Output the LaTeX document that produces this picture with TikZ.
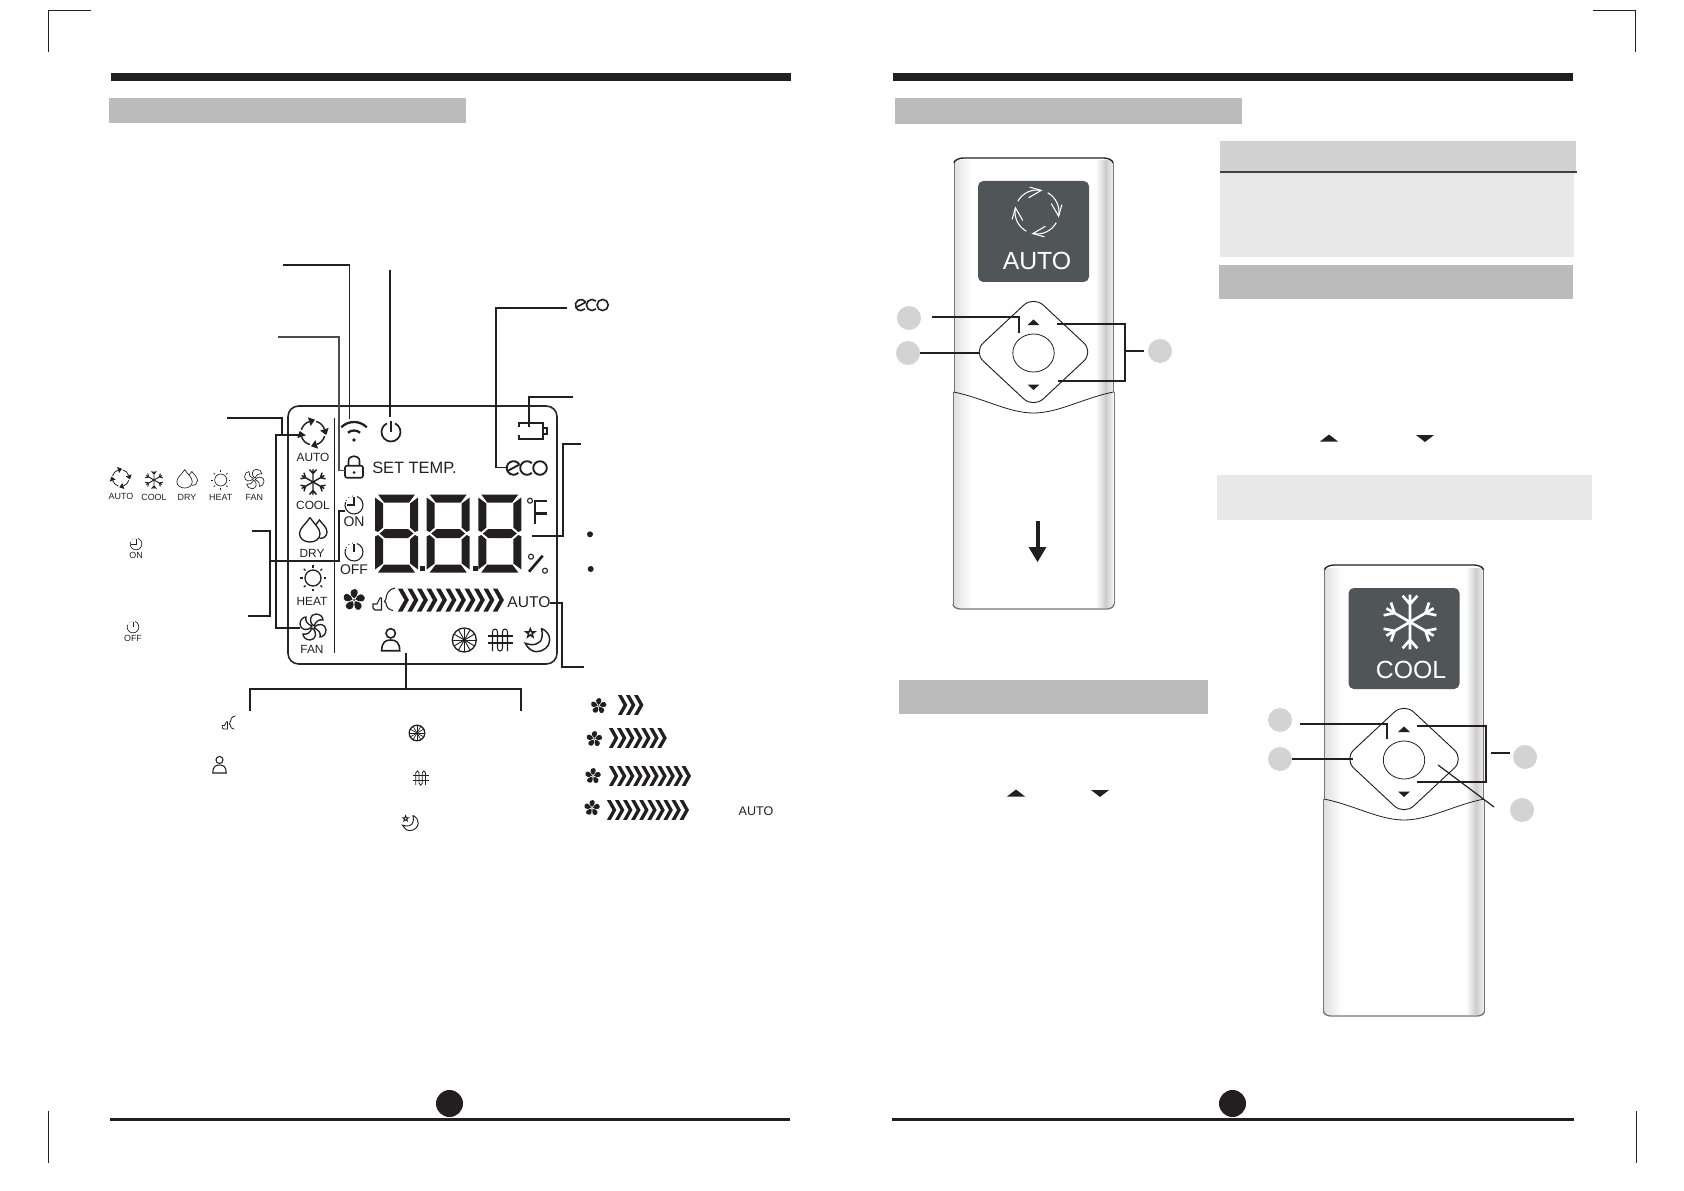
\documentclass[tikz,border=0pt]{standalone}
\usepackage{fontspec}
\setmainfont{Liberation Sans}
\definecolor{inkblack}{HTML}{231F20}
\definecolor{bandgrey}{HTML}{BBBBBB}
\definecolor{headgrey}{HTML}{D2D2D2}
\definecolor{panelgrey}{HTML}{E8E8E8}
\definecolor{screengrey}{HTML}{505658}
\definecolor{dotgrey}{HTML}{D3D3D3}
\definecolor{edgegrey}{HTML}{777777}
\tikzset{
  every pic/.style={yscale=-1},
  leader/.style={line width=0.9pt},
  cropmark/.style={line width=0.9pt},
  numdot/.style={circle,fill=dotgrey,inner sep=0pt,minimum size=18pt},
  modetxt/.style={inner sep=0pt,font=\fontsize{8.9}{10}\selectfont},
  legendtxt/.style={inner sep=0pt,font=\fontsize{6.7}{8}\selectfont},
  timertxt/.style={inner sep=0pt,font=\fontsize{10.5}{12}\selectfont},
  screentxt/.style={inner sep=0pt,text=white,font=\fontsize{18.6}{20}\selectfont},
  pics/modeauto/.style={code={
    \foreach \a in {0,90,180,270}{
      \draw ({\a+15}:12) arc[start angle=\a+15,end angle=\a+72,radius=12];
      \fill[rotate=\a+72] (16.5,0) -- (7.5,0) -- (12,6) -- cycle;
    }}},
  pics/modecool/.style={code={
    \foreach \a in {30,90,...,330}{
      \draw[rotate=\a] (0,0) -- (13,0) (8.5,0) -- (12.5,-3.5) (8.5,0) -- (12.5,3.5);
    }}},
  pics/modedry/.style={code={
    \draw (-3,-12.5) .. controls (-7,-6) and (-13.5,-2) .. (-13.5,3.5) .. controls (-13.5,9) and (-8.5,12) .. (-3,12) .. controls (2.5,12) and (7,9) .. (7,3.5) .. controls (7,-2) and (1,-6) .. (-3,-12.5);
    \draw (3,-5.5) -- (6.5,-10) .. controls (9,-6) and (14,-3) .. (14,2) .. controls (14,6) and (11,8.5) .. (6.5,8.5);
    }},
  pics/modeheat/.style={code={
    \draw (0,0) circle (8);
    \foreach \a in {0,45,...,315}{\draw (\a:10.5) -- (\a:13);}
    }},
  pics/modefan/.style={code={
    \foreach \a in {0,90,180,270}{
      \draw[rotate=\a] (1,-1) .. controls (-5,-5) and (-3,-13) .. (3,-13) .. controls (7,-13) and (10,-10) .. (10,-7) .. controls (6,-8) and (3,-6) .. (1,-1);
    }}},
  pics/wifi/.style={code={
    \draw (-135:18) arc[start angle=-135,end angle=-45,radius=18];
    \draw (-130:9.5) arc[start angle=-130,end angle=-50,radius=9.5];
    \fill (0,0) circle (1.8);
    }},
  pics/powerkey/.style={code={
    \draw (-65:9.5) arc[start angle=-65,end angle=245,radius=9.5];
    \draw (0,-11) -- (0,0);
    }},
  pics/lockkey/.style={code={
    \draw[rounded corners=1.5pt] (-9,-2.3) rectangle (9,9.7);
    \draw (-5.5,-2.3) -- (-5.5,-7) .. controls (-5.5,-13.5) and (5.5,-13.5) .. (5.5,-7) -- (5.5,-2.3);
    \fill (0,4.5) circle (1.5);
    }},
  pics/clockon/.style={code={
    \draw (-70:9) arc[start angle=-70,end angle=200,radius=9];
    \draw (0,-8) -- (0,0) -- (-7,0);
    \foreach \a in {-150,-125,-100}{\fill (\a:9) circle (0.6);}
    }},
  pics/clockoff/.style={code={
    \draw (-70:9) arc[start angle=-70,end angle=200,radius=9];
    \draw (0,-8) -- (0,0);
    \foreach \a in {-150,-125,-100}{\fill (\a:9) circle (0.6);}
    }},
  pics/bladefan/.style={code={
    \foreach \a in {0,72,...,288}{
      \fill[rotate=\a] (0,-1.5) .. controls (-5,-5) and (-4.5,-11) .. (1,-11) .. controls (5.5,-10.5) and (4,-4) .. (0,-1.5);
    }
    \fill (0,0) circle (1);
    }},
  pics/thumbkey/.style={code={
    \draw (-7,4) -- (-3,4) -- (0,-2) -- (1.5,-2) -- (1.5,10) -- (-5,10) -- (-7,8) -- cycle;
    \draw (15,-12) .. controls (9,-11) and (6,-6) .. (6,-1) -- (4.5,1.5) -- (6,3) .. controls (6,7) and (9,10) .. (13,10.5);
    }},
  pics/chevrons/.style={code={
    \foreach \i in {1,...,#1}{
      \fill[shift={(\i*9.5,0)}] (-8,-11.5) -- (-3.5,-11.5) -- (3,0) -- (-3.5,11.5) -- (-8,11.5) -- (-1.5,0) -- cycle;
    }}},
  pics/person/.style={code={
    \draw (0,-6.7) circle (4.7);
    \draw (-9,10.7) .. controls (-9,2) and (-5,0) .. (0,0) .. controls (5,0) and (9,2) .. (9,10.7) -- cycle;
    }},
  pics/wheel/.style={code={
    \foreach \a in {0,30,...,330}{\draw (0,0) -- (\a:11.5);}
    \draw[line width=1pt] (0,0) circle (12);
    \fill (0,0) circle (1.8);
    }},
  pics/heater/.style={code={
    \draw (-12.5,-4) -- (12.5,-4) (-12.5,3) -- (12.5,3);
    \draw (-8,11) -- (-8,-8) .. controls (-8,-12) and (-3,-12) .. (-3,-8) -- (-3,8) .. controls (-3,12) and (2,12) .. (2,8) -- (2,-8) .. controls (2,-12) and (7,-12) .. (7,-8) -- (7,11);
    }},
  pics/moonstar/.style={code={
    \draw (4.3,-11.7) .. controls (10,-9) and (12.7,-5) .. (12.7,0) .. controls (12.7,7) and (6,11.7) .. (-0.7,11.7) .. controls (-5,11.7) and (-9.5,8) .. (-11.7,3.3) .. controls (-5,6) and (4,5) .. (5,-3) .. controls (5.5,-6) and (5.5,-9) .. (4.3,-11.7);
    \draw (-6.7,-11.2) -- (-5.5,-8.1) -- (-2.4,-8.1) -- (-4.9,-6.2) -- (-4,-3.1) -- (-6.7,-5) -- (-9.4,-3.1) -- (-8.5,-6.2) -- (-11,-8.1) -- (-7.9,-8.1) -- cycle;
    }},
  pics/ecologo/.style={code={
    \draw (-13.5,0) ++(-30:6.8) arc[start angle=-30,end angle=-315,radius=6.8];
    \draw (-19.5,3) -- (-7.6,-3.4);
    \draw (0,0) ++(-45:6.8) arc[start angle=-45,end angle=-315,radius=6.8];
    \draw (13,0) circle (6.8);
    }},
  pics/sevenseg/.style={code={
    \fill (3,0) -- (40,0) -- (34,8) -- (9,8) -- cycle;
    \fill (3,78) -- (40,78) -- (34,70) -- (9,70) -- cycle;
    \fill (0,3) -- (8,9) -- (8,33) -- (3,37.5) -- (0,36) -- cycle;
    \fill (0,42) -- (3,40.5) -- (8,45) -- (8,69) -- (0,75) -- cycle;
    \fill (43,3) -- (35,9) -- (35,33) -- (40,37.5) -- (43,36) -- cycle;
    \fill (43,42) -- (40,40.5) -- (35,45) -- (35,69) -- (43,75) -- cycle;
    \fill (4.5,39) -- (10,34.5) -- (33,34.5) -- (38.5,39) -- (33,43.5) -- (10,43.5) -- cycle;
    }},
  pics/remote/.style={code={
    \fill[white] (-80,2) rectangle (80,450);
    \shade[left color=black!12,right color=white] (-79.5,3) rectangle (-62,449);
    \shade[left color=white,right color=black!20] (62,3) rectangle (72,449);
    \shade[left color=black!20,right color=black!6] (72,3) rectangle (79.5,449);
    \draw[inkblack,line width=1pt] (-79.5,5) .. controls (-79.5,2) and (-74,0) .. (-70,0) -- (70,0) .. controls (74,0) and (79.5,2) .. (79.5,5);
    \draw[edgegrey,line width=0.7pt] (-79.5,5) -- (-79.5,234) (79.5,5) -- (79.5,234) (-80.5,234) -- (-80.5,446) (80.5,234) -- (80.5,446);
    \draw[edgegrey,line width=1pt] (-80.5,446) .. controls (-80.5,449) and (-77,451) .. (-73,451) -- (73,451) .. controls (77,451) and (80.5,449) .. (80.5,446);
    \draw[inkblack,line width=0.6pt] (-80,234) .. controls (-50,240) and (-25,255) .. (0,255) .. controls (25,255) and (50,240) .. (80,234);
    \fill[screengrey,rounded corners=4pt] (-55.5,23) rectangle (55.5,124);
    \draw[inkblack,line width=0.7pt,rounded corners=10pt] (-60,194) -- (0,138) -- (60,194) -- (0,250) -- cycle;
    \draw[inkblack,line width=0.6pt] (0,195) ellipse (20.7 and 19);
    \fill[inkblack] (-6,167) -- (0,161.5) -- (6,167) -- cycle;
    \fill[inkblack] (-6,226.5) -- (6,226.5) -- (0,232) -- cycle;
    }},
  pics/flatarrows/.style={code={
    \foreach \a in {-151,-61,29,119}{
      \draw ({\a}:22) arc[start angle=\a,end angle=\a+72,radius=22];
      \draw[rotate=\a+72] (12.4,-11) -- (22,0) -- (23,-12);
    }}}
}
\begin{document}
\begin{tikzpicture}[x=0.75pt,y=0.75pt,yscale=-1,xscale=1,color=inkblack]
\useasboundingbox (0,0) rectangle (1684,1191);

%Shape: Crop marks
\draw[cropmark] (48.3,52) -- (48.3,10.3) -- (91,10.3);
\draw[cropmark] (1593,10.3) -- (1635.5,10.3) -- (1635.5,52);
\draw[cropmark,line width=0.7pt] (48.3,1111) -- (48.3,1163);
\draw[cropmark,line width=0.7pt] (1636.5,1111) -- (1636.5,1163);

%Shape: Top bars
\fill (111,73) rectangle (791,81);
\fill (893,73) rectangle (1573,81);
%Shape: Bottom rules and page dots
\fill (110,1117.5) rectangle (790,1120.5);
\fill (892,1117.5) rectangle (1574,1120.5);
\fill (449.5,1103.5) circle (13.5);
\fill (1232.5,1103.5) circle (13.5);

%Shape: Grey bands
\fill[bandgrey] (109,98) rectangle (466,123);
\fill[bandgrey] (895,98) rectangle (1242,124);
\fill[headgrey] (1220,141) rectangle (1576,171);
\fill[panelgrey] (1220,173) rectangle (1574,257);
\draw[line width=1.5pt,color=black!75] (1220,172) -- (1577,172);
\fill[bandgrey] (1219,265) rectangle (1573,299);
\fill[panelgrey] (1217,475) rectangle (1592,520);
\fill[bandgrey] (899,680) rectangle (1208,714);

%Shape: Display outline
\draw[line width=1.2pt,rounded corners=8pt,color=black!85] (288,406) rectangle (557,664);
\draw[leader] (334.3,418) -- (334.3,653);

%Icons: mode column
\pic[line width=1.1pt] at (313,433) {modeauto};
\pic[line width=1.1pt] at (313,482) {modecool};
\pic[line width=1pt] at (313,530) {modedry};
\pic[line width=1pt] at (313,578) {modeheat};
\pic[line width=1pt] at (313,627) {modefan};
% Text Node
\draw (313,457) node (dispauto) [modetxt] {AUTO};
\draw (313,505) node (dispcool) [modetxt] {COOL};
\draw (312,553) node (dispdry) [modetxt] {DRY};
\draw (312,601) node (dispheat) [modetxt] {HEAT};
\draw (312,649) node (dispfan) [modetxt] {FAN};

%Icons: display top row
\pic[line width=1.7pt] at (354,440) {wifi};
\pic[line width=1.3pt] at (391,432) {powerkey};
\pic[line width=1.2pt] at (354,468) {lockkey};
\pic[line width=1.4pt] at (527,468) {ecologo};
\draw[line width=1pt] (519,427) -- (519,423) -- (543,423) -- (543,439) -- (519,439) -- (519,435);
\draw[line width=0.8pt] (543.5,428) rectangle (547,434);
% Text Node
\draw (372,468) node (settemp) [anchor=west,inner sep=0pt,font=\fontsize{12.3}{14}\selectfont] {SET TEMP.};

%Icons: timers
\pic[line width=0.8pt] at (354,505) {clockon};
\pic[line width=0.8pt] at (354,552) {clockoff};
% Text Node
\draw (354,522) node (dispon) [timertxt] {ON};
\draw (354,570) node (dispoff) [timertxt] {OFF};

%Digits
\pic at (375,494.5) {sevenseg};
\pic at (426.7,494.5) {sevenseg};
\pic at (478.3,494.5) {sevenseg};
\fill (420.2,565.5) rectangle (425.2,570.5);
\fill (472.5,565.5) rectangle (477.5,570.5);

%Units
\draw[line width=0.8pt] (530,500.7) circle (2.5);
\draw[line width=2pt] (547.3,501) -- (535,501) -- (535,524) (535,513.7) -- (547,513.7);
\draw[line width=0.8pt] (531,556.7) circle (2.5);
\draw[line width=0.8pt] (545,570.7) circle (2.5);
\draw[line width=2pt] (529,571.7) -- (542.7,555.7);

%Icons: fan row
\pic at (354,600) {bladefan};
\pic[line width=0.8pt] at (380,600) {thumbkey};
\pic at (396.4,600) {chevrons=11};
% Text Node
\draw (529,602) node (dispfanauto) [inner sep=0pt,font=\fontsize{11.7}{13}\selectfont] {AUTO};

%Icons: display bottom row
\pic[line width=1.2pt] at (390.7,640) {person};
\pic[line width=0.7pt] at (464.3,640) {wheel};
\pic[line width=0.8pt] at (500.5,640) {heater};
\pic[line width=1.1pt] at (537,640) {moonstar};

%Icons: mode legend
\pic[scale=0.7,line width=0.6pt] at (120.7,478) {modeauto};
\pic[scale=0.7,line width=0.7pt] at (154,480) {modecool};
\pic[scale=0.75,line width=0.5pt] at (187,479) {modedry};
\pic[scale=0.75,line width=0.5pt] at (220.7,480) {modeheat};
\pic[scale=0.75,line width=0.5pt] at (254.3,479) {modefan};
% Text Node
\draw (121,496) node (legauto) [legendtxt] {AUTO};
\draw (154,497) node (legcool) [legendtxt] {COOL};
\draw (187,497) node (legdry) [legendtxt] {DRY};
\draw (220.7,497.5) node (legheat) [legendtxt] {HEAT};
\draw (254.3,497.5) node (legfan) [legendtxt] {FAN};

%Icons: timer legend
\pic[scale=0.65,line width=0.5pt] at (136,544) {clockon};
\pic[scale=0.65,line width=0.5pt] at (133,627) {clockoff};
% Text Node
\draw (136,555) node (legon) [legendtxt] {ON};
\draw (133,638) node (legoff) [legendtxt] {OFF};

%Icons: small logo on top
\pic[scale=0.82,line width=1.2pt] at (592,305) {ecologo};

%Shape: Bullets
\fill (590,534.3) circle (3);
\fill (590.7,569) circle (3);

%Icons: function legend
\pic[scale=0.6,line width=0.6pt] at (226.5,723) {thumbkey};
\pic[scale=0.75,line width=0.8pt] at (219.5,765) {person};
\pic[scale=0.65,line width=0.5pt] at (417,733) {wheel};
\pic[scale=0.65,line width=0.6pt] at (421,778) {heater};
\pic[scale=0.65,line width=0.7pt] at (410,823) {moonstar};

%Icons: fan speed legend
\pic[scale=0.72] at (598.6,706) {bladefan};
\pic[scale=0.85] at (616.7,705) {chevrons=3};
\pic[scale=0.72] at (594.3,739) {bladefan};
\pic[scale=0.85] at (607.7,738) {chevrons=7};
\pic[scale=0.72] at (593,776) {bladefan};
\pic[scale=0.85] at (607.7,776) {chevrons=10};
\pic[scale=0.72] at (592,808) {bladefan};
\pic[scale=0.85] at (605.7,810) {chevrons=10};
% Text Node
\draw (756,811) node (legfanauto) [inner sep=0pt,font=\fontsize{9.4}{11}\selectfont] {AUTO};

%Connectors: display
\coordinate (wifiStart) at (283,265);
\coordinate (wifiEnd) at (349.5,419);
\draw[leader] (wifiStart) -| (wifiEnd);
\coordinate (lockStart) at (278,337);
\coordinate (lockBend) at (339,470.7);
\coordinate (lockEnd) at (345,470.7);
\draw[leader,color=black!70] (lockStart) -| (lockBend) -- (lockEnd);
\coordinate (powerStart) at (390,270);
\coordinate (powerEnd) at (390,417);
\draw[leader] (powerStart) -- (powerEnd);
\coordinate (ecoStart) at (567,308);
\coordinate (ecoBend) at (496,467.7);
\coordinate (ecoEnd) at (506.7,467.7);
\draw[leader] (ecoStart) -| (ecoBend) -- (ecoEnd);
\coordinate (batStart) at (573,397);
\coordinate (batEnd) at (529,427);
\draw[leader] (batStart) -| (batEnd);
\coordinate (tempStart) at (581,444);
\coordinate (tempBend) at (563,536);
\coordinate (tempEnd) at (532,536);
\draw[leader] (tempStart) -| (tempBend) -- (tempEnd);
\coordinate (speedStart) at (584,667);
\coordinate (speedBend) at (562,603);
\coordinate (speedEnd) at (550,603);
\draw[leader] (speedStart) -| (speedBend) -- (speedEnd);
\coordinate (modeStart) at (227,418);
\coordinate (modeEnd) at (282,435);
\draw[leader] (modeStart) -| (modeEnd);
\coordinate (modeTop) at (300,435);
\coordinate (modeBottom) at (300,628);
\draw[leader] (modeTop) -- (276,435) |- (modeBottom);
\coordinate (timerTop) at (252,531);
\coordinate (timerMid) at (270,561);
\coordinate (timerBottom) at (248,616);
\coordinate (timerEnd) at (345,511);
\draw[leader] (timerTop) -| (timerMid) |- (timerBottom);
\draw[leader] (timerMid) -- (339,561) |- (timerEnd);
\coordinate (funcStart) at (406,653);
\coordinate (funcMid) at (406,689);
\coordinate (funcLeft) at (250,711);
\coordinate (funcRight) at (521,711);
\draw[leader] (funcStart) -- (funcMid);
\draw[leader] (funcLeft) |- (funcMid) -| (funcRight);

%Remote: upper
\pic at (1033.5,158) {remote};
\pic[color=white,line width=0.8pt] at (1037,212) {flatarrows};
% Text Node
\draw (1037,261) node (scrauto) [screentxt] {AUTO};
\draw[line width=3pt] (1037.5,521) -- (1037.5,548);
\fill (1028.5,547) -- (1046.5,547) -- (1037.5,562) -- cycle;

\node (dotA) [numdot] at (909,318) {};
\node (dotB) [numdot] at (908,353) {};
\node (dotC) [numdot] at (1160,351) {};
\coordinate (aStart) at (932,317);
\coordinate (aEnd) at (1019,333);
\draw[leader] (aStart) -| (aEnd);
\coordinate (bEnd) at (979,353);
\draw[leader] (dotB) -- (bEnd);
\coordinate (cTop) at (1057,324);
\coordinate (cBottom) at (1058,381);
\coordinate (cMid) at (1125,351);
\coordinate (cTail) at (1144,351);
\draw[leader] (cTop) -| (cMid) |- (cBottom);
\draw[leader] (cMid) -- (cTail);

%Remote: lower
\pic at (1404,565) {remote};
\pic[color=white,line width=2pt,scale=2.1] at (1410,622) {modecool};
% Text Node
\draw (1411,670) node (scrcool) [screentxt] {COOL};

\node (dotD) [numdot] at (1280,720) {};
\node (dotE) [numdot] at (1280,759) {};
\node (dotF) [numdot] at (1525,757) {};
\node (dotG) [numdot] at (1522,810) {};
\coordinate (dStart) at (1300,724);
\coordinate (dEnd) at (1387,739);
\draw[leader] (dStart) -| (dEnd);
\coordinate (eEnd) at (1353,759);
\draw[leader] (dotE) -- (eEnd);
\coordinate (fTop) at (1417,726);
\coordinate (fBottom) at (1417,782);
\coordinate (fMid) at (1486,753);
\coordinate (fTailA) at (1491,753);
\coordinate (fTailB) at (1510,753);
\draw[leader] (fTop) -| (fMid) |- (fBottom);
\draw[leader] (fTailA) -- (fTailB);
\coordinate (gStart) at (1438,765);
\coordinate (gEnd) at (1494,807);
\draw[leader] (gStart) -- (gEnd);

%Shape: Page triangles
\fill (1320,441.5) -- (1329,434.5) -- (1338,441.5) -- cycle;
\fill (1416,435) -- (1434,435) -- (1425,442) -- cycle;
\fill (1007,796.5) -- (1016,789.5) -- (1025,796.5) -- cycle;
\fill (1091,790) -- (1109,790) -- (1100,797) -- cycle;

\end{tikzpicture}
\end{document}
